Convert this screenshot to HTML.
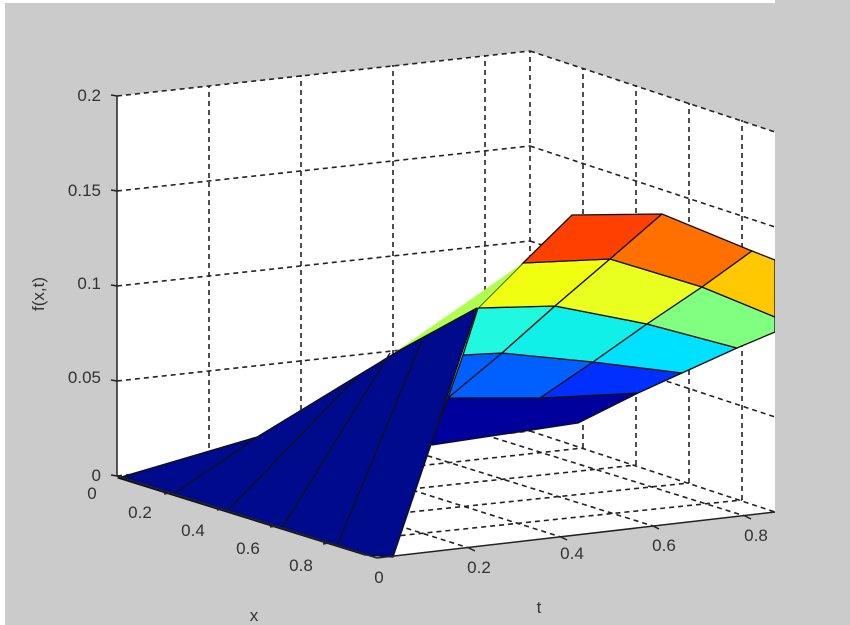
<!DOCTYPE html>
<html><head><meta charset="utf-8"><style>
html,body{margin:0;padding:0;background:#fff}
svg{display:block}
text{font-family:"Liberation Sans",Arial,sans-serif;font-size:17px;fill:#333}
</style></head><body>
<svg width="850" height="625" viewBox="0 0 850 625" xmlns="http://www.w3.org/2000/svg">
<rect x="0" y="0" width="850" height="625" fill="#fff"/>
<rect x="5" y="3" width="845" height="622" fill="#cbcbcb"/>
<polygon points="117,96 530,51 775,132 775,512 377,558 117,476" fill="#fff"/>
<g stroke="#222" stroke-width="1.6" stroke-dasharray="5,4" fill="none">
<!-- left wall z lines -->
<line x1="117" y1="381" x2="530" y2="336"/>
<line x1="117" y1="286" x2="530" y2="241"/>
<line x1="117" y1="191" x2="530" y2="146"/>
<line x1="117" y1="96" x2="530" y2="51"/>
<line x1="117" y1="476" x2="530" y2="431"/>
<!-- left wall verticals -->
<line x1="209" y1="466" x2="209" y2="86"/>
<line x1="301" y1="455" x2="301" y2="75"/>
<line x1="393" y1="445" x2="393" y2="65"/>
<line x1="485" y1="435" x2="485" y2="55"/>
<line x1="530" y1="431" x2="530" y2="51"/>
<!-- back wall z lines -->
<line x1="530" y1="336" x2="775" y2="417"/>
<line x1="530" y1="241" x2="775" y2="322"/>
<line x1="530" y1="146" x2="775" y2="227"/>
<line x1="530" y1="51" x2="775" y2="132"/>
<line x1="530" y1="431" x2="775" y2="512"/>
<!-- back wall verticals -->
<line x1="583" y1="448" x2="583" y2="68"/>
<line x1="636" y1="465" x2="636" y2="85"/>
<line x1="689" y1="483" x2="689" y2="103"/>
<line x1="742" y1="500" x2="742" y2="120"/>
<!-- floor -->
<line x1="170" y1="493" x2="583" y2="448"/>
<line x1="223" y1="509" x2="636" y2="465"/>
<line x1="276" y1="526" x2="689" y2="483"/>
<line x1="329" y1="543" x2="742" y2="500"/>
<line x1="209" y1="466" x2="469" y2="548"/>
<line x1="301" y1="455" x2="561" y2="537"/>
<line x1="393" y1="445" x2="653" y2="526"/>
<line x1="485" y1="435" x2="745" y2="516"/>
</g>
<!-- surface -->
<g stroke="#111" stroke-width="1.3" stroke-linejoin="round">
<polygon points="432,440 448,398 540,398 638,393 578,423 432,445" fill="#00009c"/>
<polygon points="448,398 463,355 502,353 593,362 540,398" fill="#0060ff"/>
<polygon points="540,398 593,362 682,373 638,393" fill="#0030ff"/>
<polygon points="463,355 478,308 555,306 502,353" fill="#20f8e0"/>
<polygon points="502,353 555,306 647,324 593,362" fill="#10f0e8"/>
<polygon points="593,362 647,324 737,348 682,373" fill="#00e0ff"/>
<polygon points="478,308 523,263 610,259 555,306" fill="#f0ff10"/>
<polygon points="555,306 610,259 702,287 647,324" fill="#e8ff20"/>
<polygon points="647,324 702,287 775,317 775,332 737,348" fill="#80ff80"/>
<polygon points="523,263 572,215 662,214 610,259" fill="#ff4000"/>
<polygon points="610,259 662,214 752,251 702,287" fill="#ff7000"/>
<polygon points="702,287 752,251 775,260 775,317" fill="#ffc800"/>
<polygon points="395,352 523,263 478,308 470,312" fill="#b0ff50" stroke="none"/>
<polygon points="118,478 257,437 400,350 477,308 393,557 365,555" fill="#000a8c"/>
<line x1="175" y1="493" x2="257" y2="437"/>
<line x1="228" y1="510" x2="357" y2="377"/>
<line x1="282" y1="528" x2="390" y2="353"/>
<line x1="337" y1="546" x2="423" y2="338"/>
<line x1="448" y1="398" x2="502" y2="353"/>
<line x1="502" y1="353" x2="540" y2="398" stroke="none"/>
</g>
<rect x="775" y="0" width="75" height="625" fill="#cbcbcb"/>
<!-- axes -->
<g stroke="#222" stroke-width="1.5" fill="none">
<line x1="117" y1="96" x2="117" y2="476"/>
<line x1="117" y1="476" x2="377" y2="558"/>
<line x1="377" y1="558" x2="775" y2="512"/>
<line x1="117" y1="96" x2="111" y2="95"/><line x1="117" y1="191" x2="111" y2="190"/>
<line x1="117" y1="286" x2="111" y2="285"/><line x1="117" y1="381" x2="111" y2="380"/>
<line x1="117" y1="476" x2="111" y2="475"/>
<line x1="170" y1="493" x2="164" y2="494"/><line x1="223" y1="509" x2="217" y2="510"/>
<line x1="276" y1="526" x2="270" y2="527"/><line x1="329" y1="543" x2="323" y2="544"/>
<line x1="469" y1="548" x2="475" y2="551"/><line x1="561" y1="537" x2="567" y2="540"/>
<line x1="653" y1="526" x2="659" y2="529"/><line x1="745" y1="516" x2="751" y2="519"/>
</g>
<g text-anchor="end">
<text x="101" y="101">0.2</text>
<text x="101" y="196">0.15</text>
<text x="101" y="289">0.1</text>
<text x="101" y="383">0.05</text>
<text x="101" y="481">0</text>
</g>
<g text-anchor="middle">
<text x="92" y="499">0</text>
<text x="140" y="518">0.2</text>
<text x="193" y="536">0.4</text>
<text x="248" y="554">0.6</text>
<text x="301" y="571">0.8</text>
<text x="379" y="583">0</text>
<text x="479" y="573">0.2</text>
<text x="572" y="559">0.4</text>
<text x="664" y="551">0.6</text>
<text x="756" y="541">0.8</text>
<text x="254" y="621">x</text>
<text x="539" y="613">t</text>
<text x="0" y="0" transform="translate(44,294) rotate(-90)">f(x,t)</text>
</g>
</svg>
</body></html>
